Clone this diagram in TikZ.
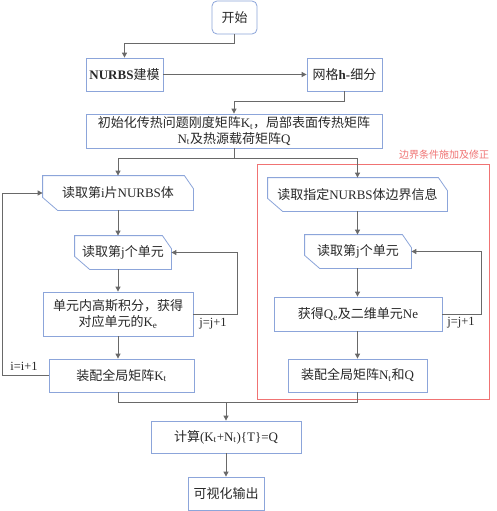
\documentclass[tikz,border=0pt]{standalone}
\usepackage{fontspec}
\setmainfont{Liberation Serif}
\newfontfamily\cjkfont{Noto Sans CJK SC}
\newcommand\zh[1]{{\cjkfont #1}}
\usetikzlibrary{arrows.meta}

\definecolor{flowBorder}{RGB}{140,165,218}
\definecolor{flowLine}{RGB}{105,105,105}
\definecolor{flowText}{RGB}{40,40,40}
\definecolor{flowRed}{RGB}{240,115,115}

\newcommand\cutframe[1]{%
  \draw[draw=flowBorder, line width=.8pt] (#1.north west) --
    ([xshift=-9pt]#1.north east) -- ([yshift=-13pt]#1.north east) --
    (#1.south east) -- ([xshift=15pt]#1.south west) --
    ([yshift=13pt]#1.south west) -- cycle;}

\begin{document}
\begin{tikzpicture}[x=1pt,y=-1pt,
      box/.style={draw=flowBorder, line width=.8pt, fill=white,
        text=flowText, font=\fontsize{13}{15.5}\selectfont,
        align=center, inner sep=0pt},
      cutbox/.style={box, draw=none},
      startbox/.style={box, rounded corners=5pt},
      flow/.style={draw=flowLine, line width=.9pt,
        -{Triangle[length=5pt,width=5pt]}},
      link/.style={draw=flowLine, line width=.9pt},
      loopnote/.style={font=\fontsize{12.5}{14}\selectfont, text=flowText},
      framenote/.style={font=\fontsize{10}{12}\selectfont, text=flowRed},
      redframe/.style={draw=flowRed, line width=.8pt}]
      \useasboundingbox (0,0) rectangle (496,511);

      \fill[white] (0,0) rectangle (496,511);

      \draw[redframe] (257,164) rectangle (489,399);
      \node[framenote] (framelabel) at (444,155) {\zh{边界条件施加及修正}};

      \node[startbox, minimum width=45pt, minimum height=33pt]
        (start) at (234.5,17.5) {\zh{开始}};
      \node[box, minimum width=77pt, minimum height=33pt]
        (nurbs) at (124.5,74.5) {\textbf{NURBS}\zh{建模}};
      \node[box, minimum width=75pt, minimum height=33pt]
        (mesh) at (344.5,74.5) {\zh{网格}\textbf{h-}\zh{细分}};
      \node[box, minimum width=296pt, minimum height=34pt]
        (init) at (234,131) {\zh{初始化传热问题刚度矩阵}K\textsubscript{t}\zh{，局部表面传热矩阵}\\
        N\textsubscript{t}\zh{及热源载荷矩阵}Q};

      \node[cutbox, minimum width=150pt, minimum height=34pt]
        (readi) at (118,193) {\zh{读取第}i\zh{片}NURBS\zh{体}};
      \node[cutbox, minimum width=96pt, minimum height=33pt]
        (readjl) at (123,252.5) {\zh{读取第}j\zh{个单元}};
      \node[box, minimum width=150pt, minimum height=44pt]
        (gauss) at (118,314) {\zh{单元内高斯积分，获得}\\\zh{对应单元的}K\textsubscript{e}};
      \node[box, minimum width=145pt, minimum height=33pt]
        (asmK) at (121.5,375.5) {\zh{装配全局矩阵}K\textsubscript{t}};

      \node[cutbox, minimum width=179pt, minimum height=33pt]
        (readb) at (357.5,194.5) {\zh{读取指定}NURBS\zh{体边界信息}};
      \node[cutbox, minimum width=106pt, minimum height=33pt]
        (readjr) at (358,251.5) {\zh{读取第}j\zh{个单元}};
      \node[box, minimum width=168pt, minimum height=34pt]
        (getQ) at (358,314) {\zh{获得}Q\textsubscript{e}\zh{及二维单元}Ne};
      \node[box, minimum width=139pt, minimum height=33pt]
        (asmN) at (357.5,375.5) {\zh{装配全局矩阵}N\textsubscript{t}\zh{和}Q};

      \node[box, minimum width=150pt, minimum height=32pt]
        (calc) at (226,437) {\zh{计算}(K\textsubscript{t}+N\textsubscript{t})\{T\}=Q};
      \node[box, minimum width=76pt, minimum height=33pt]
        (output) at (226,493.5) {\zh{可视化输出}};

      \foreach \n in {readi,readjl,readb,readjr}{
        \cutframe{\n}}

      \draw[flow] (start.south) -- ++(0,9) -| (nurbs.north);
      \draw[flow] (nurbs.east) -- (mesh.west);
      \draw[flow] (mesh.south) -- ++(0,10) -| (init.north);
      \draw[link] (init.south) -- ++(0,10) coordinate (split);
      \draw[flow] (split) -| (readi.north);
      \draw[flow] (split) -| (readb.north);

      \draw[flow] (readi.south) -- (readi.south |- readjl.north);
      \draw[flow] (readi.south |- readjl.south) -- (gauss.north);
      \draw[flow] (gauss.south) -- (gauss.south |- asmK.north);
      \draw[flow] (gauss.east) -- ++(44,0) |- (readjl.east);
      \node[loopnote] (jnextl) at (213,324) {j=j+1};
      \draw[flow] (asmK.west) -- ++(-46,0) |- (readi.west);
      \node[loopnote] (inext) at (24,366) {i=i+1};

      \draw[flow] (readb.south) -- (readb.south |- readjr.north);
      \draw[flow] (readb.south |- readjr.south) -- (readb.south |- getQ.north);
      \draw[flow] (readb.south |- getQ.south) -- (readb.south |- asmN.north);
      \draw[flow] (getQ.east) -- ++(39,0) |- (readjr.east);
      \node[loopnote] (jnextr) at (461,323) {j=j+1};

      \coordinate (merge) at ([yshift=-10pt]calc.north |- asmK.south);
      \draw[link] (gauss.south |- asmK.south) |- (merge)
        -| (readb.south |- asmN.south);
      \draw[flow] (merge) -- (calc.north);
      \draw[flow] (calc.south) -- (output.north);
    \end{tikzpicture}
\end{document}
